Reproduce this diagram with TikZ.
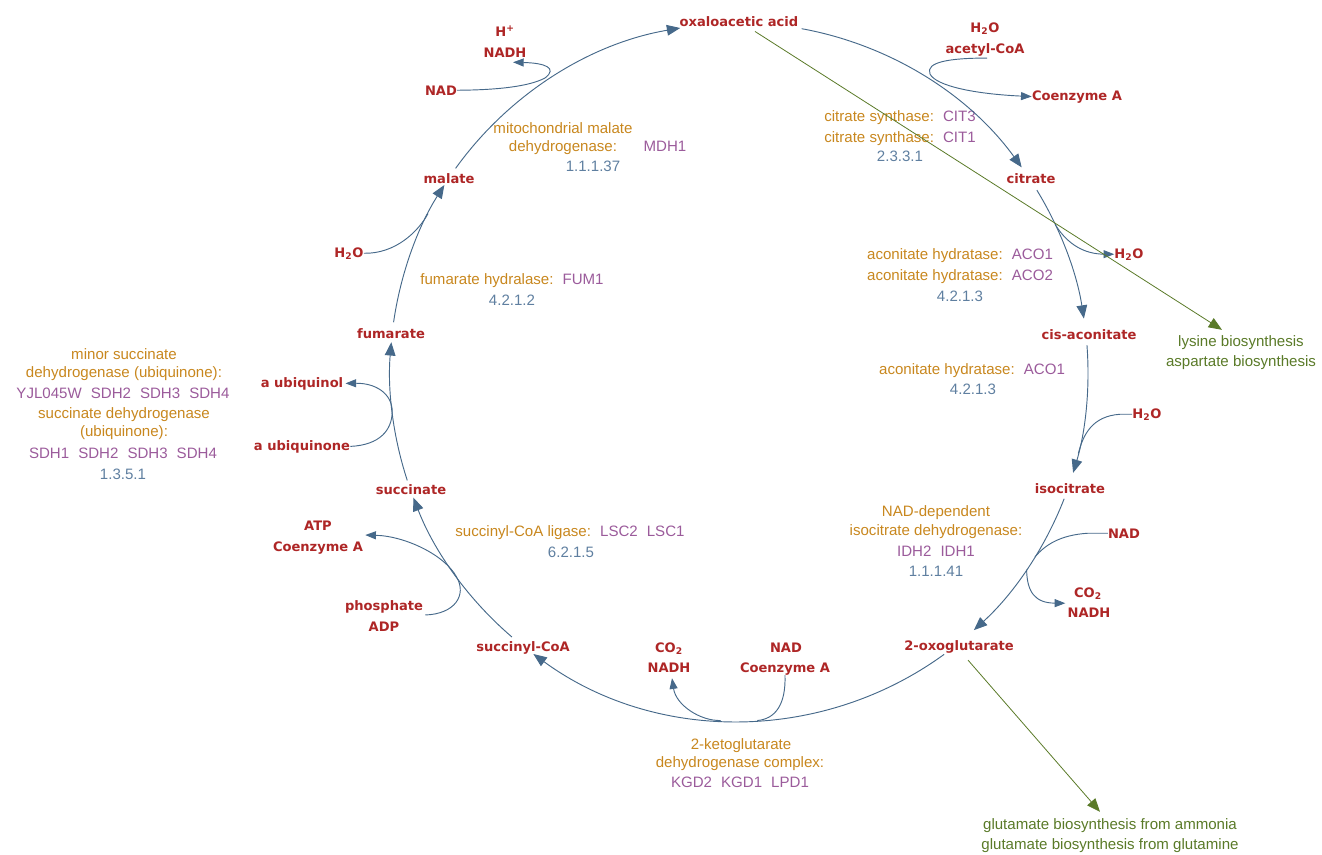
\documentclass[tikz,border=0pt]{standalone}
\usepackage{fontspec}
\setmainfont{Liberation Sans}
\newfontfamily\metfont{DejaVu Sans}
\usetikzlibrary{arrows.meta,calc}
\definecolor{metred}{HTML}{AE2626}
\definecolor{enzor}{HTML}{C8871E}
\definecolor{genepur}{HTML}{9B5B9B}
\definecolor{ecblue}{HTML}{5F7FA0}
\definecolor{arrblue}{HTML}{46698A}
\definecolor{pathgreen}{HTML}{5A7A28}
\newcommand{\gsep}{\hspace{0.6em}}
\newcommand{\gn}[1]{\textcolor{genepur}{#1}}
\newcommand{\HtwoO}{H\textsubscript{2}O}
\newcommand{\COtwo}{CO\textsubscript{2}}
\begin{document}
\begin{tikzpicture}[x=0.75pt,y=-0.75pt,
  met/.style={font=\metfont\bfseries\fontsize{9.8}{11}\selectfont,text=metred,inner sep=0pt,anchor=base},
  enz/.style={font=\fontsize{11.3}{13}\selectfont,text=enzor,inner sep=0pt,anchor=base},
  ec/.style={enz,text=ecblue},
  gene/.style={enz,text=genepur},
  pw/.style={enz,text=pathgreen},
  rx/.style={draw=arrblue,line width=0.7pt},
  tipbig/.style={-{Triangle[length=10pt,width=8pt]}},
  tipsm/.style={-{Triangle[length=8pt,width=6pt]}},
  gl/.style={draw=pathgreen,line width=0.6pt,-{Triangle[length=10pt,width=8pt]}}]
\useasboundingbox (0,0) rectangle (1322,854);

% ---------- metabolites ----------
\node[met] (oaa) at (739,26) {oxaloacetic acid};
\node[met] (hp) at (505,36) {H\textsuperscript{+}};
\node[met] (nadh1) at (505,57) {NADH};
\node[met] (nad1) at (441,95) {NAD};
\node[met] (h2oa) at (985,32) {\HtwoO};
\node[met] (acoa) at (985,53) {acetyl-CoA};
\node[met] (coa1) at (1077,100) {Coenzyme A};
\node[met] (cit) at (1031,183) {citrate};
\node[met] (mal) at (449,183) {malate};
\node[met] (h2o1) at (349,257) {\HtwoO};
\node[met] (h2o2) at (1129,258) {\HtwoO};
\node[met] (cis) at (1089,339) {cis-aconitate};
\node[met] (fum) at (391,338) {fumarate};
\node[met] (ubol) at (302,387) {a ubiquinol};
\node[met] (ubone) at (302,450) {a ubiquinone};
\node[met] (h2o3) at (1147,418) {\HtwoO};
\node[met] (iso) at (1070,493) {isocitrate};
\node[met] (succ) at (411,494) {succinate};
\node[met] (atp) at (318,530) {ATP};
\node[met] (coa2) at (318,551) {Coenzyme A};
\node[met] (nad2) at (1124,538) {NAD};
\node[met] (co2a) at (1088,597) {\COtwo};
\node[met] (nadh2) at (1089,617) {NADH};
\node[met] (phos) at (384,610) {phosphate};
\node[met] (adp) at (384,631) {ADP};
\node[met] (scoa) at (523,651) {succinyl-CoA};
\node[met] (co2b) at (669,652) {\COtwo};
\node[met] (nadh3) at (669,672) {NADH};
\node[met] (nad3) at (786,652) {NAD};
\node[met] (coa3) at (785,672) {Coenzyme A};
\node[met] (og) at (959,650) {2-oxoglutarate};

% ---------- enzymes ----------
\node[enz] (cs1) at (900,121) {citrate synthase:\gsep\gn{CIT3}};
\node[enz] (cs2) at (900,142) {citrate synthase:\gsep\gn{CIT1}};
\node[ec] (cs3) at (900,161) {2.3.3.1};
\node[enz] (mdh1) at (563,133) {mitochondrial malate};
\node[enz] (mdh2) at (563,151) {dehydrogenase:};
\node[gene] (mdh3) at (665,151) {MDH1};
\node[ec] (mdh4) at (593,171) {1.1.1.37};
\node[enz] (fh1) at (512,284) {fumarate hydralase:\gsep\gn{FUM1}};
\node[ec] (fh2) at (512,305) {4.2.1.2};
\node[enz] (ah1) at (960,259) {aconitate hydratase:\gsep\gn{ACO1}};
\node[enz] (ah2) at (960,280) {aconitate hydratase:\gsep\gn{ACO2}};
\node[ec] (ah3) at (960,301) {4.2.1.3};
\node[enz] (ah4) at (972,374) {aconitate hydratase:\gsep\gn{ACO1}};
\node[ec] (ah5) at (973,394) {4.2.1.3};
\node[pw] (lys) at (1241,346) {lysine biosynthesis};
\node[pw] (asp) at (1241,366) {aspartate biosynthesis};
\node[enz] (sd1) at (124,359) {minor succinate};
\node[enz] (sd2) at (124,377) {dehydrogenase (ubiquinone):};
\node[gene] (sd3) at (123,398) {YJL045W\gsep SDH2\gsep SDH3\gsep SDH4};
\node[enz] (sd4) at (124,418) {succinate dehydrogenase};
\node[enz] (sd5) at (124,436) {(ubiquinone):};
\node[gene] (sd6) at (123,458) {SDH1\gsep SDH2\gsep SDH3\gsep SDH4};
\node[ec] (sd7) at (123,479) {1.3.5.1};
\node[enz] (idh1) at (936,516) {NAD-dependent};
\node[enz] (idh2) at (936,535) {isocitrate dehydrogenase:};
\node[gene] (idh3) at (936,556) {IDH2\gsep IDH1};
\node[ec] (idh4) at (936,576) {1.1.1.41};
\node[enz] (lsc1) at (570,536) {succinyl-CoA ligase:\gsep\gn{LSC2\gsep LSC1}};
\node[ec] (lsc2) at (571,557) {6.2.1.5};
\node[enz] (kg1) at (741,749) {2-ketoglutarate};
\node[enz] (kg2) at (740,767) {dehydrogenase complex:};
\node[gene] (kg3) at (740,787) {KGD2\gsep KGD1\gsep LPD1};
\node[pw] (glu1) at (1110,829) {glutamate biosynthesis from ammonia};
\node[pw] (glu2) at (1110,849) {glutamate biosynthesis from glutamine};

% ---------- main cycle arcs ----------
\coordinate (C) at (739,372);
\coordinate (a1) at ($(C)+(-79.65:349)$);
\coordinate (a2) at ($(C)+(-31.4:349)$);
\coordinate (a3) at ($(C)+(-4.4:349)$);
\coordinate (a4) at ($(C)+(21.3:349)$);
\coordinate (a5) at ($(C)+(54:349)$);
\coordinate (a6) at ($(C)+(130.6:349)$);
\coordinate (a7) at ($(C)+(161.9:349)$);
\coordinate (a8) at ($(C)+(188.2:349)$);
\coordinate (a9) at ($(C)+(215.7:349)$);
\draw[rx,tipbig] (a1) arc[start angle=-79.65,end angle=-35.9,radius=349];
\draw[rx,tipbig] (a2) arc[start angle=-31.4,end angle=-8.8,radius=349];
\draw[rx,tipbig] (a3) arc[start angle=-4.4,end angle=16.8,radius=349];
\draw[rx,tipbig] (a4) arc[start angle=21.3,end angle=47.7,radius=349];
\draw[rx,tipbig] (a5) arc[start angle=54,end angle=126.1,radius=349];
\draw[rx,tipbig] (a6) arc[start angle=130.6,end angle=158.9,radius=349];
\draw[rx,tipbig] (a7) arc[start angle=161.9,end angle=184.9,radius=349];
\draw[rx,tipbig] (a8) arc[start angle=188.2,end angle=212.4,radius=349];
\draw[rx,tipbig] (a9) arc[start angle=215.7,end angle=260.3,radius=349];

% ---------- junctions ----------
\coordinate (j1) at ($(C)+(-24.9:349)$);
\coordinate (j2) at ($(C)+(13.5:349)$);
\coordinate (j3) at ($(C)+(32:349)$);
\coordinate (j4) at ($(C)+(34.5:349)$);
\coordinate (j5) at ($(C)+(87:349)$);
\coordinate (j6) at ($(C)+(93:349)$);
\coordinate (j7) at ($(C)+(144:349)$);
\coordinate (j8) at ($(C)+(173.5:349)$);
\coordinate (j9) at ($(C)+(207:349)$);

% ---------- side reactions ----------
\draw[rx,tipsm] ($(acoa.south)+(2,2)$) .. controls (950,58) and (925,62) .. (930,74)
   .. controls (936,86) and (975,94) .. (coa1.west);
\draw[rx,tipsm] (j1) .. controls (1068,245) and (1085,254) .. (h2o2.west);
\draw[rx] (h2o3.west) -- ++(-12,0) .. controls (1092,416) and (1083,435) .. (j2);
\draw[rx] (nad2.west) -- ++(-20,0) .. controls (1060,535) and (1045,545) .. (j3);
\draw[rx,tipsm] (j4) .. controls (1027,592) and (1035,603) .. ($(nadh2.north west)+(-2,-4)$);
\draw[rx] (coa3.south) .. controls (786,705) and (775,719) .. (j5);
\draw[rx,tipsm] (j6) .. controls (700,721) and (676,705) .. ($(nadh3.south)+(3,6)$);
\draw[rx,tipsm] ($(phos.south east)+(2,2)$) .. controls (455,614) and (467,595) .. (j7)
   .. controls (445,555) and (405,536) .. ($(coa2.north east)+(2,-6)$);
\draw[rx,tipsm] (ubone.east) .. controls (380,445) and (392,430) .. (j8)
   .. controls (392,393) and (375,383) .. ($(ubol.east)+(2,0)$);
\draw[rx] (h2o1.east) .. controls (395,254) and (418,232) .. (j9);
\draw[rx,tipsm] (nad1.east) .. controls (500,90) and (530,86) .. (545,78)
   .. controls (558,68) and (545,63) .. ($(nadh1.south)+(8,5)$);

% ---------- links to other pathways ----------
\draw[gl] ($(oaa.south)+(16,5)$) -- ($(lys.north)+(-19,-5)$);
\draw[gl] ($(og.south)+(9,7)$) -- ($(glu1.north)+(-10,-6)$);
\end{tikzpicture}
\end{document}
